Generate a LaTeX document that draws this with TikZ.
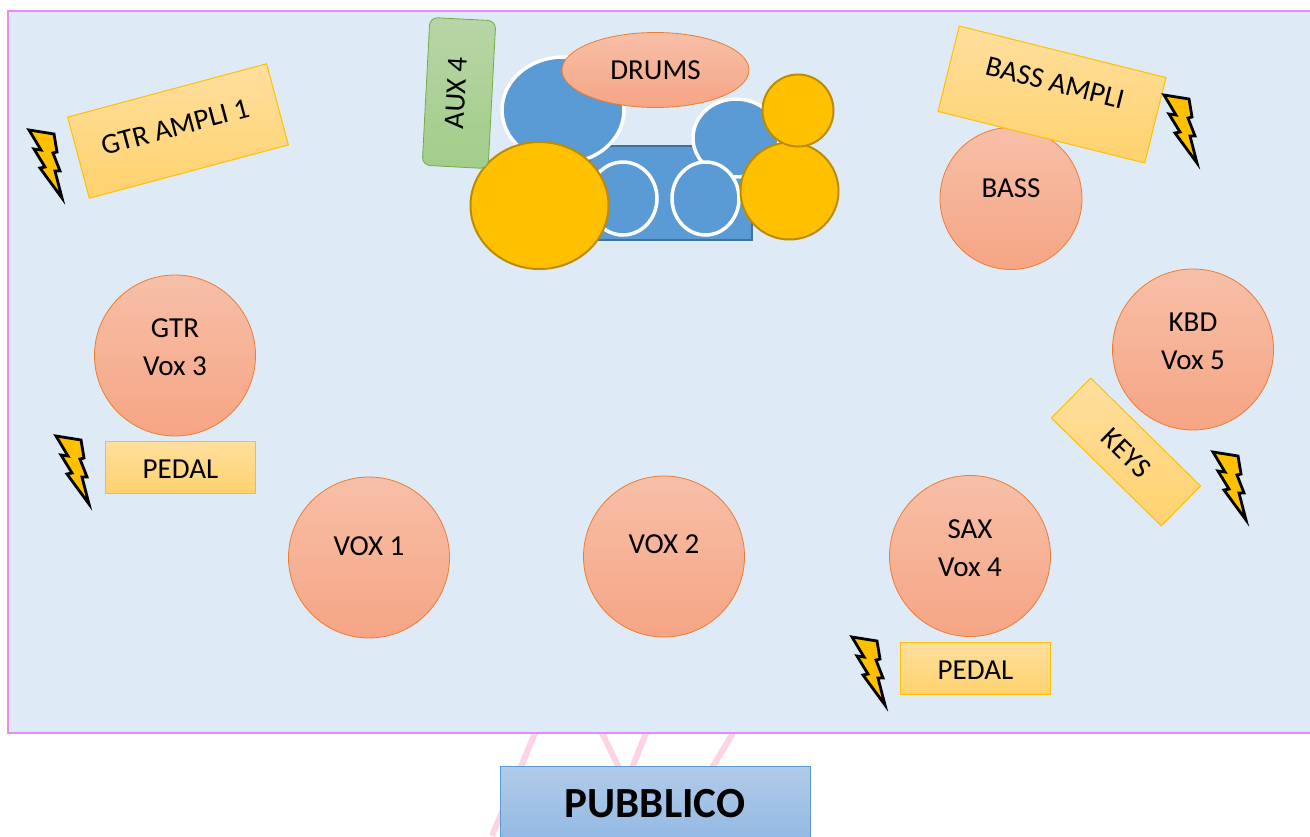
\documentclass[tikz,border=0pt]{standalone}
\usepackage{fontspec}
\setmainfont{Carlito}
\usepackage{tikz}
\usetikzlibrary{shapes.geometric}

\definecolor{stagefill}{HTML}{DEEAF6}
\definecolor{stageline}{HTML}{E68CF5}
\definecolor{drumblue}{HTML}{5B9BD5}
\definecolor{drumline}{HTML}{41719C}
\definecolor{cymbal}{HTML}{FFC000}
\definecolor{cymballine}{HTML}{BC8C00}
\definecolor{marks}{HTML}{FFD3E6}
\definecolor{salmontop}{HTML}{F7BFA8}
\definecolor{salmonbot}{HTML}{F6A584}
\definecolor{salmonline}{HTML}{ED7D31}
\definecolor{geartop}{HTML}{FFDF9E}
\definecolor{gearbot}{HTML}{FFD26E}
\definecolor{auxtop}{HTML}{B8D5A6}
\definecolor{auxbot}{HTML}{A2CD8A}
\definecolor{auxline}{HTML}{70AD47}
\definecolor{pubtop}{HTML}{B1CBE9}
\definecolor{pubbot}{HTML}{92B9E3}

\tikzset{
  person/.style={circle, draw=salmonline, line width=0.8pt, top color=salmontop, bottom color=salmonbot, inner sep=0, minimum size=161pt},
  persontext/.style={font=\fontsize{29}{38}\selectfont, align=center, yshift=8pt},
  geartext/.style={font=\fontsize{29}{32}\selectfont},
  gear/.style={draw=cymbal, line width=1pt, top color=geartop, bottom color=gearbot, inner sep=0},
  drum/.style={ellipse, draw=white, line width=3.5pt, fill=drumblue, inner sep=0},
  plate/.style={ellipse, draw=cymballine, line width=2pt, fill=cymbal, inner sep=0},
  pics/bolt/.style={code={
    \draw[line width=2.8pt, black, fill=cymbal, miter limit=8]
      (1,1) -- (26,5) -- (29,23) -- (25,24) -- (32,42) -- (27,42) -- (34,69) -- (12,39) -- (17,38) -- (6,20) -- (13,21) -- cycle;
  }}
}

\begin{document}
\begin{tikzpicture}[x=1pt, y=-1pt]
\useasboundingbox (0,0) rectangle (1310,836);

% Marks behind the stage
\draw[line width=6pt, marks] (535,733) -- (492,836);
\draw[line width=6pt, marks] (602,733) -- (620,770);
\draw[line width=6pt, marks] (646,733) -- (632,768);
\draw[line width=6pt, marks] (733,733) -- (712,768);

% Stage
\node[draw=stageline, line width=1.5pt, fill=stagefill, inner sep=0, minimum width=1310pt, minimum height=722pt] at (663,372) (stage) {};

% Public
\node[draw=drumblue, line width=0.8pt, top color=pubtop, bottom color=pubbot, inner sep=0, minimum width=310pt, minimum height=76pt, font=\fontsize{43}{46}\selectfont\bfseries] at (655,804) (pubblico) {PUBBLICO};

% Drums
\node[rectangle, draw=drumline, line width=1.5pt, fill=drumblue, inner sep=0, minimum width=162pt, minimum height=94pt] at (671,193) (riser) {};
\node[drum, minimum width=122pt, minimum height=106pt] at (563,110) (floortom) {};
\node[drum, minimum width=86pt, minimum height=78pt] at (736,138) (racktom) {};
\node[drum, minimum width=68pt, minimum height=73pt] at (623,198.5) (snare) {};
\node[drum, minimum width=67pt, minimum height=73pt] at (705.5,198.5) (kick) {};
\node[ellipse, draw=salmonline, line width=0.8pt, top color=salmontop, bottom color=salmonbot, inner sep=0, minimum width=187pt, minimum height=75pt, font=\fontsize{29}{32}\selectfont] at (655.5,70) (drums) {DRUMS};
\node[plate, minimum width=138pt, minimum height=127pt] at (539.5,205.5) (plate1) {};
\node[plate, minimum width=98pt, minimum height=97pt] at (789.5,191) (plate2) {};
\node[plate, minimum width=71pt, minimum height=72pt] at (798,110.5) (plate3) {};

% Aux
\node[rectangle, rounded corners=8pt, draw=auxline, line width=0.8pt, top color=auxtop, bottom color=auxbot, inner sep=0, minimum width=148pt, minimum height=66pt, rotate=87] at (459,93) (aux) {};
\node[geartext, rotate=87] at (456.5,93) (auxtext) {AUX 4};

% Amps and keys
\node[gear, minimum width=206pt, minimum height=84pt, rotate=15] at (178,131) (gtrampli) {};
\node[geartext, rotate=15] at (175,127) (gtramplitext) {GTR AMPLI 1};
\node[person, minimum size=142pt] at (1011,198.5) (bass) {};
\node[persontext, yshift=2pt] at (bass) (basstext) {BASS};
\node[gear, minimum width=213pt, minimum height=88pt, rotate=-14] at (1052,94.5) (bassampli) {};
\node[geartext, rotate=-14] at (1055,83) (bassamplitext) {BASS AMPLI};
\node[gear, minimum width=154pt, minimum height=56pt, rotate=-44.5] at (1126,452) (keys) {};
\node[geartext, rotate=-44.5] at (1126,453) (keystext) {KEYS};

% Band
\node[person] at (175,355.5) (gtr) {};
\node[persontext] at (gtr) (gtrtext) {GTR\\Vox 3};
\node[person] at (369,557.5) (vox1) {};
\node[persontext, yshift=3pt] at (vox1) (vox1text) {VOX 1};
\node[person] at (664,556.5) (vox2) {};
\node[persontext, yshift=4pt] at (vox2) (vox2text) {VOX 2};
\node[person] at (970,556) (sax) {};
\node[persontext] at (sax) (saxtext) {SAX\\Vox 4};
\node[person] at (1193,349.5) (kbd) {};
\node[persontext] at (kbd) (kbdtext) {KBD\\Vox 5};

% Pedals
\node[gear, minimum width=150pt, minimum height=52pt] at (180,467) (pedal1) {};
\node[geartext] at (180.5,469) (pedal1text) {PEDAL};
\node[gear, minimum width=150pt, minimum height=52pt] at (975,668) (pedal2) {};
\node[geartext] at (975.5,670) (pedal2text) {PEDAL};

% Power
\pic (bolt1) at (28,129) {bolt};
\pic (bolt2) at (55,435) {bolt};
\pic (bolt3) at (851,636) {bolt};
\pic (bolt4) at (1212,451) {bolt};
\pic (bolt5) at (1163,94) {bolt};

\end{tikzpicture}
\end{document}
